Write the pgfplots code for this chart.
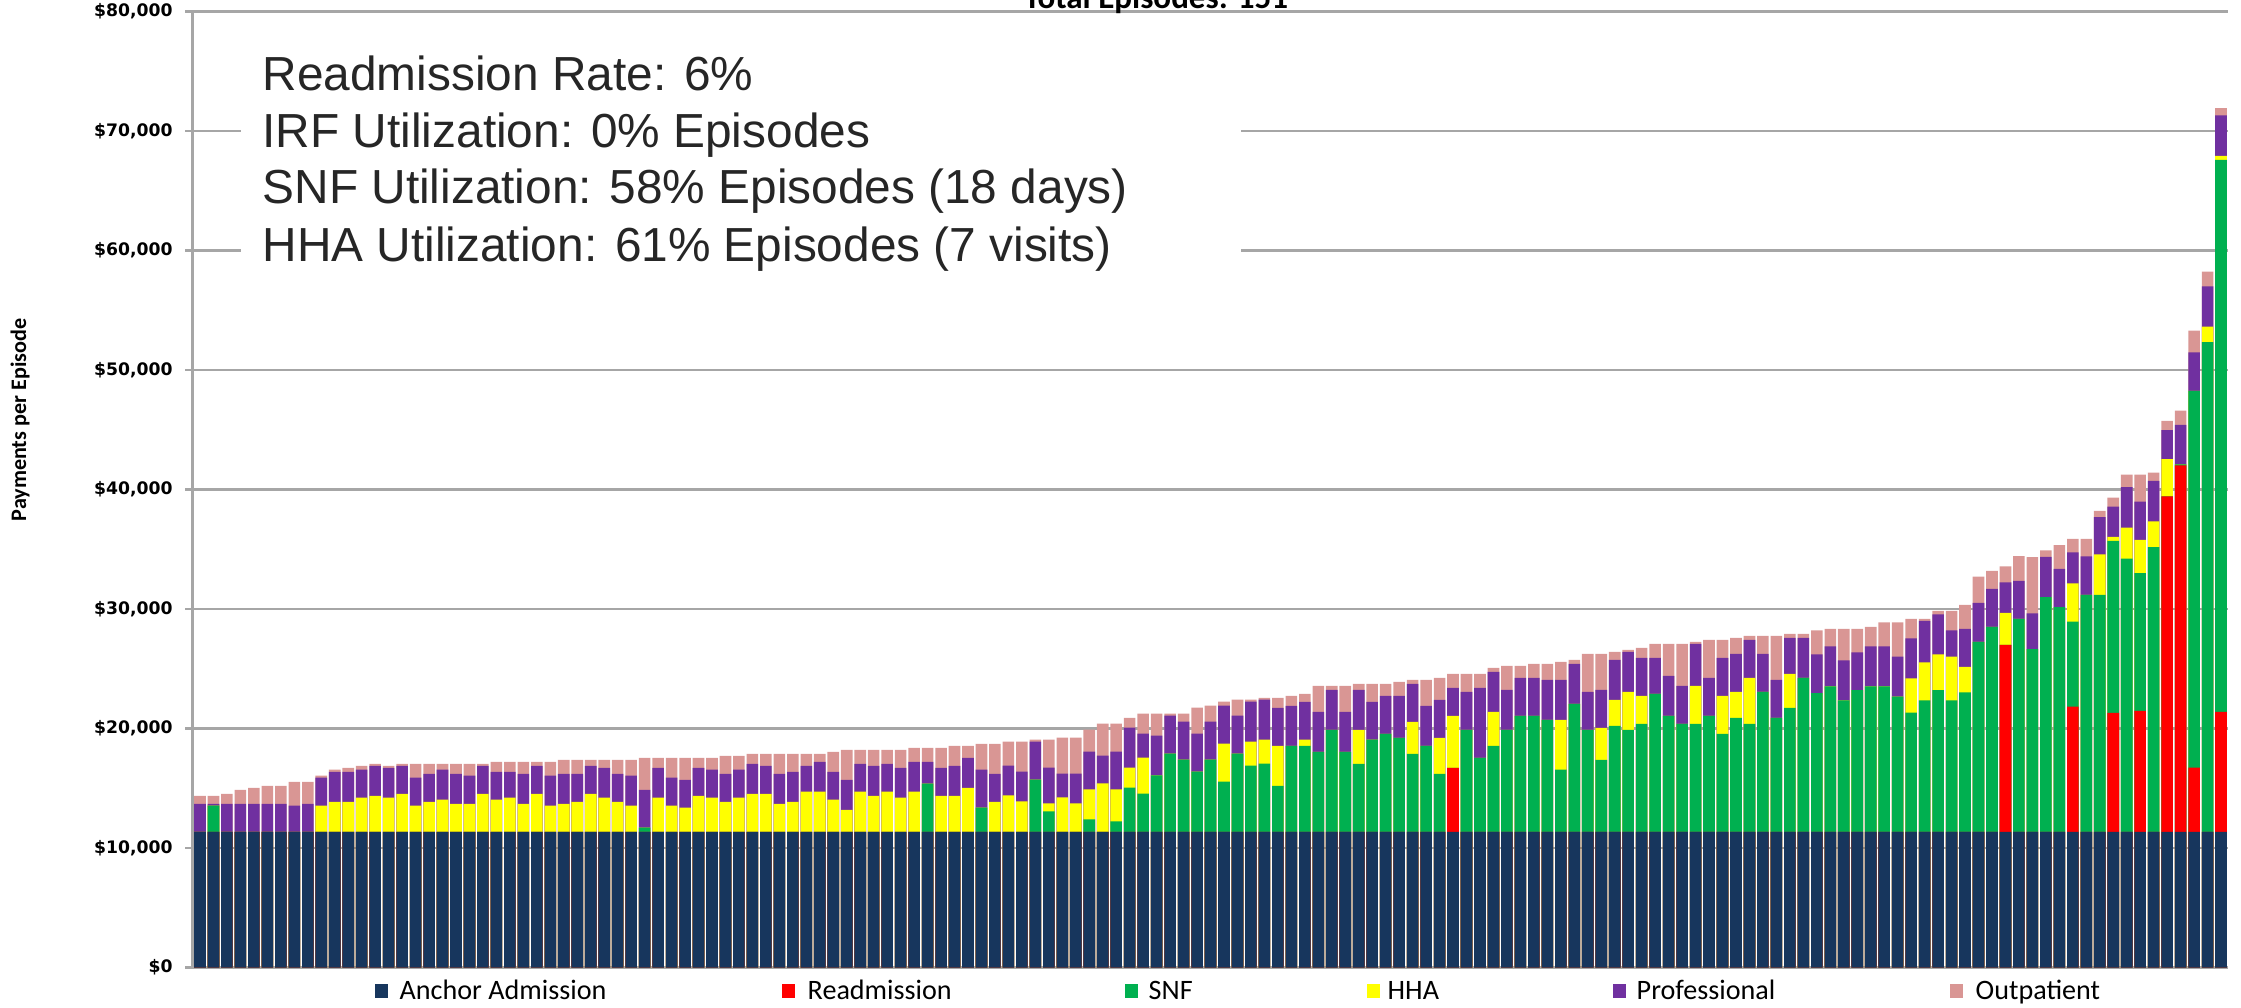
\documentclass[border=0pt]{standalone}
\usepackage{fontspec}
\setmainfont{Carlito}
\newfontfamily\arialf{Liberation Sans}
\newfontfamily\dejavuf{DejaVu Sans}
\usepackage{pgfplots}
\usepackage{pgfplotstable}
\pgfplotsset{compat=1.18}
\definecolor{cAnc}{RGB}{23,54,93}
\definecolor{cRea}{RGB}{255,0,0}
\definecolor{cSnf}{RGB}{0,176,80}
\definecolor{cHha}{RGB}{255,255,0}
\definecolor{cPro}{RGB}{112,48,160}
\definecolor{cOut}{RGB}{217,150,148}
\definecolor{gridc}{RGB}{166,166,166}
\definecolor{txtc}{RGB}{38,38,38}

% cumulative tops of each stack level, one row per episode (sorted)
% A anchor, R readmission, S SNF, H HHA, P professional, O outpatient
\pgfplotstableread{
i A R S H P O
0 11340 11340 11340 11340 13700 14370
1 11340 11340 13540 13540 13700 14370
2 11340 11340 11340 11340 13700 14540
3 11340 11340 11340 11340 13700 14870
4 11340 11340 11340 11340 13700 15040
5 11340 11340 11340 11340 13700 15210
6 11340 11340 11340 11340 13700 15210
7 11340 11340 11340 11340 13540 15540
8 11340 11340 11340 11340 13700 15540
9 11340 11340 11340 13540 15880 16050
10 11340 11340 11340 13870 16380 16550
11 11340 11340 11340 13870 16380 16710
12 11340 11340 11340 14210 16550 16880
13 11340 11340 11340 14370 16880 17050
14 11340 11340 11340 14210 16710 16880
15 11340 11340 11340 14540 16880 17050
16 11340 11340 11340 13540 15880 17050
17 11340 11340 11340 13870 16210 17050
18 11340 11340 11340 14040 16550 17050
19 11340 11340 11340 13700 16210 17050
20 11340 11340 11340 13700 16050 17050
21 11340 11340 11340 14540 16880 17050
22 11340 11340 11340 14040 16380 17210
23 11340 11340 11340 14210 16380 17210
24 11340 11340 11340 13700 16210 17210
25 11340 11340 11340 14540 16880 17210
26 11340 11340 11340 13540 16050 17210
27 11340 11340 11340 13700 16210 17380
28 11340 11340 11340 13870 16210 17380
29 11340 11340 11340 14540 16880 17380
30 11340 11340 11340 14210 16710 17380
31 11340 11340 11340 13870 16210 17380
32 11340 11340 11340 13540 16050 17380
33 11340 11340 11700 11700 14870 17550
34 11340 11340 11340 14210 16710 17550
35 11340 11340 11340 13540 15880 17550
36 11340 11340 11340 13370 15710 17550
37 11340 11340 11340 14370 16710 17550
38 11340 11340 11340 14210 16550 17550
39 11340 11340 11340 13870 16210 17720
40 11340 11340 11340 14210 16550 17720
41 11340 11340 11340 14540 17050 17880
42 11340 11340 11340 14540 16880 17880
43 11340 11340 11340 13700 16210 17880
44 11340 11340 11340 13870 16380 17880
45 11340 11340 11340 14710 16880 17880
46 11340 11340 11340 14710 17210 17880
47 11340 11340 11340 14040 16380 18050
48 11340 11340 11340 13200 15710 18220
49 11340 11340 11340 14710 17050 18220
50 11340 11340 11340 14370 16880 18220
51 11340 11340 11340 14710 17050 18220
52 11340 11340 11340 14210 16710 18220
53 11340 11340 11340 14710 17210 18380
54 11340 11340 15380 15380 17210 18380
55 11340 11340 11340 14370 16710 18380
56 11340 11340 11340 14370 16880 18550
57 11340 11340 11340 15040 17550 18550
58 11340 11340 13370 13370 16550 18720
59 11340 11340 11340 13870 16210 18720
60 11340 11340 11340 14400 16900 18900
61 11340 11340 11340 13900 16400 18900
62 11340 11340 15730 15730 18900 19070
63 11340 11340 13060 13730 16730 19070
64 11340 11340 11340 14230 16230 19240
65 11340 11340 11340 13730 16230 19240
66 11340 11340 12390 14900 18070 19900
67 11340 11340 11340 15400 17730 20400
68 11340 11340 12230 14900 18070 20400
69 11340 11340 15060 16730 20070 20900
70 11340 11340 14560 17570 19570 21240
71 11340 11340 16070 16070 19400 21240
72 11340 11340 17900 17900 21070 21240
73 11340 11340 17400 17400 20570 21240
74 11340 11340 16400 16400 19570 21740
75 11340 11340 17400 17400 20570 21910
76 11340 11340 15560 18730 21910 22240
77 11340 11340 17900 17900 21070 22410
78 11340 11340 16900 18900 22240 22410
79 11340 11340 17060 19070 22410 22570
80 11340 11340 15210 18550 21730 22570
81 11340 11340 18550 18550 21900 22730
82 11340 11340 18550 19060 22230 22900
83 11340 11340 18050 18050 21400 23570
84 11340 11340 19890 19890 23230 23570
85 11340 11340 18050 18050 21400 23570
86 11340 11340 17050 19890 23230 23740
87 11340 11340 19060 19060 22230 23740
88 11340 11340 19560 19560 22730 23740
89 11340 11340 19220 19220 22730 23900
90 11340 11340 17880 20560 23740 24070
91 11340 11340 18550 18550 21900 24070
92 11340 11340 16210 19220 22400 24240
93 11340 16710 16710 21060 23400 24570
94 11340 11340 19890 19890 23070 24570
95 11340 11340 17550 17550 23400 24570
96 11340 11340 18550 21400 24740 25070
97 11340 11340 19890 19890 23230 25240
98 11340 11340 21060 21060 24240 25240
99 11340 11340 21060 21060 24240 25410
100 11340 11340 20720 20720 24070 25410
101 11340 11340 16550 20720 24070 25570
102 11340 11340 22060 22060 25410 25740
103 11340 11340 19890 19890 23070 26240
104 11340 11340 17380 20060 23230 26240
105 11340 11340 20220 22400 25740 26410
106 11340 11340 19890 23070 26410 26580
107 11340 11340 20390 22730 25910 26740
108 11340 11340 22900 22900 25910 27080
109 11340 11340 21060 21060 24400 27080
110 11340 11340 20390 20390 23570 27080
111 11340 11340 20390 23570 27080 27240
112 11340 11340 21060 21060 24240 27410
113 11340 11340 19550 22730 25910 27410
114 11340 11340 20890 23070 26240 27580
115 11340 11340 20390 24240 27410 27750
116 11340 11340 23070 23070 26240 27750
117 11340 11340 20890 20890 24070 27750
118 11340 11340 21730 24570 27580 27910
119 11340 11340 24240 24240 27580 27910
120 11340 11340 22970 22970 26200 28210
121 11340 11340 23520 23520 26870 28330
122 11340 11340 22360 22360 25710 28330
123 11340 11340 23220 23220 26380 28330
124 11340 11340 23520 23520 26870 28510
125 11340 11340 23520 23520 26870 28880
126 11340 11340 22670 22670 26020 28880
127 11340 11340 21330 24190 27540 29180
128 11340 11340 22360 25530 29000 29180
129 11340 11340 23220 26200 29550 29850
130 11340 11340 22360 26020 28210 29850
131 11340 11340 23030 25160 28330 30340
132 11340 11340 27240 27240 30520 32720
133 11340 11340 28510 28510 31680 33200
134 11340 26990 26990 29670 32230 33570
135 11340 11340 29180 29180 32350 34420
136 11340 11340 26640 26640 29640 34350
137 11340 11340 31000 31000 34360 34900
138 11340 11340 30150 30150 33360 35350
139 11340 21830 28940 32140 34740 35870
140 11340 11340 31190 31190 34400 35870
141 11340 11340 31190 34570 37690 38210
142 11340 21310 35700 36040 38560 39330
143 11340 11340 34220 36820 40200 41240
144 11340 21480 33010 35780 38990 41240
145 11340 11340 35180 37340 40720 41410
146 11340 39420 39420 42540 44970 45750
147 11340 42020 42100 42100 45400 46610
148 11340 16720 48260 48260 51470 53290
149 11340 11340 52330 53630 57010 58230
150 11340 21400 67590 67930 71310 71920
}\data

\begin{document}
\begin{tikzpicture}
\begin{axis}[
  at={(0,0)}, anchor=south west,
  scale only axis, width=203.55mm, height=95.6mm,
  xmin=-0.557, xmax=150.52, ymin=0, ymax=80000,
  axis x line=none, axis y line*=left,
  axis line style={color=gridc, line width=0.6pt},
  xtick=\empty,
  ytick={0,10000,...,80000},
  yticklabels={{\$0},{\$10,000},{\$20,000},{\$30,000},{\$40,000},{\$50,000},{\$60,000},{\$70,000},{\$80,000}},
  yticklabel style={font=\dejavuf\bfseries\fontsize{4.9}{6}\selectfont, text=black},
  scaled y ticks=false,
  ymajorgrids, grid style={color=gridc, line width=0.6pt},
  tick align=outside, major tick length=0.75mm,
  tick style={color=gridc, line width=0.6pt},
]
% stacks drawn top level first, each level covering the one above it
\addplot[ybar, bar width=0.86, bar shift=0pt, draw=none, fill=cOut] table[x=i, y=O] {\data};
\addplot[ybar, bar width=0.86, bar shift=0pt, draw=none, fill=cPro] table[x=i, y=P] {\data};
\addplot[ybar, bar width=0.86, bar shift=0pt, draw=none, fill=cHha] table[x=i, y=H] {\data};
\addplot[ybar, bar width=0.86, bar shift=0pt, draw=none, fill=cSnf] table[x=i, y=S] {\data};
\addplot[ybar, bar width=0.86, bar shift=0pt, draw=none, fill=cRea] table[x=i, y=R] {\data};
\addplot[ybar, bar width=0.86, bar shift=0pt, draw=none, fill=cAnc] table[x=i, y=A] {\data};
\end{axis}

% summary box over the grid
\fill[white] (4.85mm,66.75mm) rectangle (104.85mm,93.75mm);
\begin{scope}[every node/.style={anchor=base west, inner sep=0pt, text=txtc,
    font=\arialf\fontsize{13.6}{16}\selectfont}]
\node at (6.95mm,87.68mm) {Readmission Rate: 6\%};
\node at (6.95mm,81.98mm) {IRF Utilization: 0\% Episodes};
\node at (6.95mm,76.35mm) {SNF Utilization: 58\% Episodes (18 days)};
\node at (6.95mm,70.58mm) {HHA Utilization: 61\% Episodes (7 visits)};
\end{scope}

\node[anchor=base, inner sep=0pt, font=\bfseries\fontsize{9.4}{11}\selectfont] at (96.35mm,95.85mm) {Total Episodes: 151};
\node[rotate=90, inner sep=0pt, font=\bfseries\fontsize{6.3}{7.5}\selectfont] at (-17.25mm,54.75mm) {Payments per Episode};

% legend
\begin{scope}[every node/.style={anchor=base west, inner sep=0pt, font=\fontsize{8}{9.6}\selectfont}]
\fill[cAnc] (18.25mm,-3.05mm) rectangle ++(1.3mm,1.45mm);
\node at (20.65mm,-3.2mm) {Anchor Admission};
\fill[cRea] (58.95mm,-3.05mm) rectangle ++(1.3mm,1.45mm);
\node at (61.45mm,-3.2mm) {Readmission};
\fill[cSnf] (93.25mm,-3.05mm) rectangle ++(1.3mm,1.45mm);
\node at (95.55mm,-3.2mm) {SNF};
\fill[cHha] (117.45mm,-3.05mm) rectangle ++(1.3mm,1.45mm);
\node at (119.45mm,-3.2mm) {HHA};
\fill[cPro] (142.05mm,-3.05mm) rectangle ++(1.3mm,1.45mm);
\node at (144.35mm,-3.2mm) {Professional};
\fill[cOut] (175.75mm,-3.05mm) rectangle ++(1.3mm,1.45mm);
\node at (178.25mm,-3.2mm) {Outpatient};
\end{scope}

\pgfresetboundingbox
\path[use as bounding box] (-19.25mm,-3.95mm) rectangle (204.85mm,96.75mm);
\end{tikzpicture}
\end{document}
